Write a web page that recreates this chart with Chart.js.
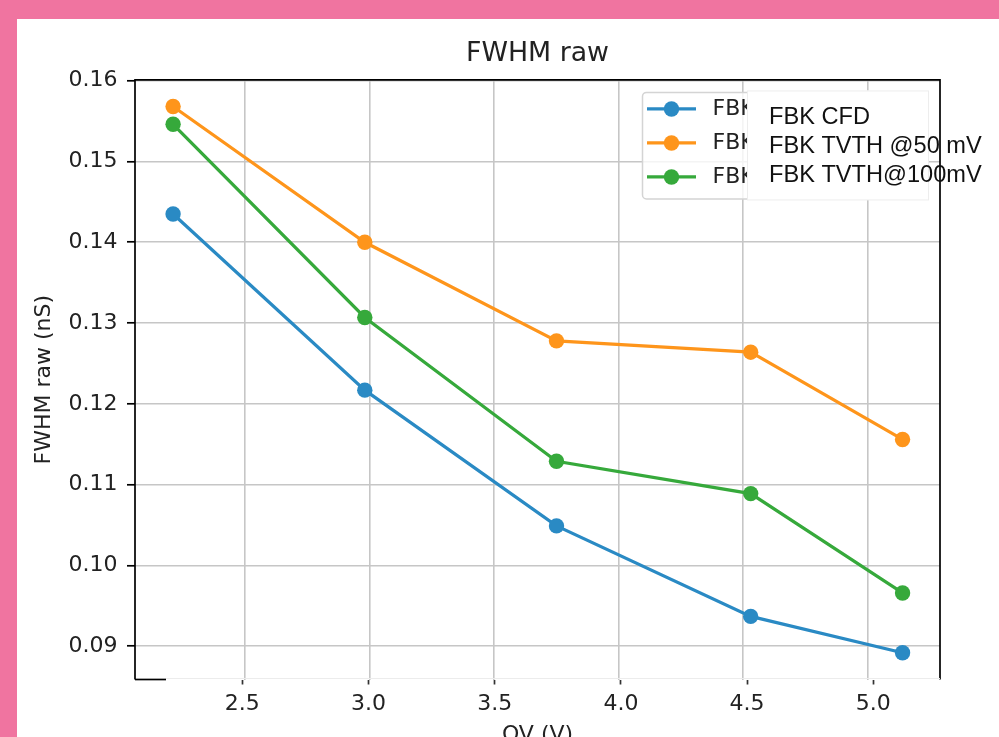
<!DOCTYPE html>
<html>
<head>
<meta charset="utf-8">
<title>FWHM raw</title>
<script src="https://cdn.jsdelivr.net/npm/chart.js@4/dist/chart.umd.min.js"></script>
<style>
  html, body { margin: 0; padding: 0; background: #f074a0; overflow: hidden; }
  #wrap { position: absolute; left: 0; top: 0; width: 999px; height: 737px; }
</style>
</head>
<body>
<div id="wrap"><canvas id="c" width="999" height="737"></canvas></div>
<script>
// Over-voltage settings (V)
const overVoltage = [2.21, 2.98, 3.75, 4.53, 5.14];

// FWHM raw (ns) per discriminator setting
const fbkCfd     = [0.1435, 0.1217, 0.1049, 0.0937, 0.0892];
const fbkTvth50  = [0.1568, 0.1400, 0.1278, 0.1264, 0.1156];
const fbkTvth100 = [0.1546, 0.1307, 0.1129, 0.1089, 0.0966];

const seriesLabels = ['FBK CFD', 'FBK TVTH @50 mV', 'FBK TVTH@100mV'];
const seriesColors = ['#2a8ac4', '#fe951b', '#36a93b'];

const xTickValues = [2.5, 3.0, 3.5, 4.0, 4.5, 5.0];
const yTickValues = [0.09, 0.10, 0.11, 0.12, 0.13, 0.14, 0.15, 0.16];

const TEXT = '#222222';
const GRID = '#c6c6c6';
const LABEL_SIZE = 22;

Chart.defaults.font.family = "'DejaVu Sans', sans-serif";
Chart.defaults.color = TEXT;

function points(ys) {
  return overVoltage.map((x, i) => ({ x: x, y: ys[i] }));
}

function makeSet(label, ys, color) {
  return {
    label: label,
    data: points(ys),
    xAxisID: 'x',
    yAxisID: 'y',
    borderColor: color,
    backgroundColor: color,
    pointBackgroundColor: color,
    pointBorderWidth: 0,
    pointRadius: 7.7,
    pointHoverRadius: 7.7,
    borderWidth: 3.2,
    tension: 0,
    fill: false
  };
}

// pink frame with the white sheet inside it
const pagePlugin = {
  id: 'page',
  beforeDraw(chart) {
    const c = chart.ctx;
    c.save();
    c.fillStyle = '#f074a0';
    c.fillRect(0, 0, chart.width, chart.height);
    c.fillStyle = '#ffffff';
    c.fillRect(17, 19, chart.width - 17, chart.height - 19);
    c.restore();
  }
};

// axes frame: left, top and right spines; the bottom one only keeps its left stub
const spinePlugin = {
  id: 'spines',
  afterDatasetsDraw(chart) {
    const { left, right, top, bottom } = chart.chartArea;
    const c = chart.ctx;
    c.save();
    c.strokeStyle = '#000';
    c.lineWidth = 1.7;
    c.beginPath();
    c.moveTo(left, bottom);
    c.lineTo(left, top);
    c.lineTo(right, top);
    c.lineTo(right, bottom);
    c.stroke();
    c.beginPath();
    c.moveTo(left, bottom);
    c.lineTo(left + 31, bottom);
    c.stroke();
    c.strokeStyle = '#ececec';
    c.lineWidth = 1;
    c.beginPath();
    c.moveTo(left + 31, bottom - 1);
    c.lineTo(right, bottom - 1);
    c.stroke();
    c.restore();
  }
};

function roundRectPath(c, x, y, w, h, r) {
  c.beginPath();
  c.moveTo(x + r, y);
  c.arcTo(x + w, y, x + w, y + h, r);
  c.arcTo(x + w, y + h, x, y + h, r);
  c.arcTo(x, y + h, x, y, r);
  c.arcTo(x, y, x + w, y, r);
  c.closePath();
}

// legend in the upper right corner, with a label card laid over its text column
const legendPlugin = {
  id: 'cornerLegend',
  afterDraw(chart) {
    const c = chart.ctx;
    const { right, top } = chart.chartArea;
    const sets = chart.data.datasets;
    const bx = right - 297.5, by = top + 12.5, bw = 283.5, bh = 106.5;
    c.save();
    roundRectPath(c, bx, by, bw, bh, 4);
    c.fillStyle = 'rgba(255,255,255,0.8)';
    c.fill();
    c.strokeStyle = '#d4d4d4';
    c.lineWidth = 1.5;
    c.stroke();

    sets.forEach((ds, i) => {
      const y = top + 29 + i * 34;
      c.strokeStyle = ds.borderColor;
      c.lineWidth = 3.2;
      c.beginPath();
      c.moveTo(bx + 4.5, y);
      c.lineTo(bx + 53.5, y);
      c.stroke();
      c.fillStyle = ds.pointBackgroundColor;
      c.beginPath();
      c.arc(bx + 29, y, 7.7, 0, Math.PI * 2);
      c.fill();
      c.fillStyle = TEXT;
      c.font = LABEL_SIZE + "px 'DejaVu Sans', sans-serif";
      c.textAlign = 'left';
      c.textBaseline = 'middle';
      c.fillText(ds.label, bx + 70, y);
    });

    const cx = right - 193, cy = top + 10.5;
    c.fillStyle = '#ffffff';
    c.fillRect(cx, cy, 182, 109.5);
    c.strokeStyle = '#ededed';
    c.lineWidth = 1;
    c.strokeRect(cx + 0.5, cy + 0.5, 181, 109);
    c.fillStyle = '#111111';
    c.font = "23.6px 'Liberation Sans', Arial, sans-serif";
    c.textAlign = 'left';
    c.textBaseline = 'alphabetic';
    sets.forEach((ds, i) => {
      c.fillText(ds.label, cx + 22, top + 44 + i * 29.2);
    });
    c.restore();
  }
};

new Chart(document.getElementById('c'), {
  type: 'line',
  data: {
    datasets: [
      makeSet(seriesLabels[0], fbkCfd, seriesColors[0]),
      makeSet(seriesLabels[1], fbkTvth50, seriesColors[1]),
      makeSet(seriesLabels[2], fbkTvth100, seriesColors[2])
    ]
  },
  options: {
    responsive: false,
    animation: false,
    events: [],
    layout: { padding: { left: 0, right: 59, top: 0, bottom: 0 } },
    plugins: {
      legend: { display: false },
      tooltip: { enabled: false },
      title: {
        display: true,
        fullSize: false,
        text: 'FWHM raw',
        color: TEXT,
        font: { size: 26.8, weight: 'normal', lineHeight: 1.2 },
        padding: { top: 38.4, bottom: 9.4 }
      }
    },
    scales: {
      // grid lines of the data axis
      x: {
        type: 'linear',
        position: 'bottom',
        min: 2.0570,
        max: 5.2904,
        afterBuildTicks: s => { s.ticks = xTickValues.map(v => ({ value: v })); },
        afterFit: s => { s.height = 0; },
        ticks: { display: false },
        grid: { color: GRID, lineWidth: 1.6, drawTicks: false },
        border: { display: false }
      },
      // tick row and axis title under the plot
      xt: {
        type: 'linear',
        position: 'bottom',
        min: 2.0749,
        max: 5.2643,
        afterBuildTicks: s => { s.ticks = xTickValues.map(v => ({ value: v })); },
        afterFit: s => { s.height = 57.5; },
        ticks: {
          autoSkip: false,
          maxRotation: 0,
          padding: 6.5,
          color: TEXT,
          font: { size: LABEL_SIZE },
          callback: v => Number(v).toFixed(1)
        },
        grid: {
          display: true,
          drawOnChartArea: false,
          drawTicks: true,
          tickLength: 5,
          tickColor: '#333333',
          tickWidth: 1.7
        },
        border: { display: false },
        title: {
          display: true,
          text: 'OV (V)',
          color: TEXT,
          font: { size: LABEL_SIZE },
          padding: { top: 0, bottom: -11.2 }
        }
      },
      y: {
        type: 'linear',
        position: 'left',
        min: 0.08589,
        max: 0.16009,
        afterBuildTicks: s => { s.ticks = yTickValues.map(v => ({ value: v })); },
        afterFit: s => { s.width = 135; },
        ticks: {
          autoSkip: false,
          padding: 9.5,
          color: TEXT,
          font: { size: LABEL_SIZE },
          callback: v => Number(v).toFixed(2)
        },
        grid: {
          color: GRID,
          lineWidth: 1.6,
          drawTicks: true,
          tickLength: 8,
          tickColor: '#000000',
          tickWidth: 1.7
        },
        border: { display: false },
        title: {
          display: true,
          text: 'FWHM raw (nS)',
          color: TEXT,
          font: { size: LABEL_SIZE },
          padding: { top: 30.8, bottom: 0 }
        }
      }
    }
  },
  plugins: [pagePlugin, spinePlugin, legendPlugin]
});
</script>
</body>
</html>
